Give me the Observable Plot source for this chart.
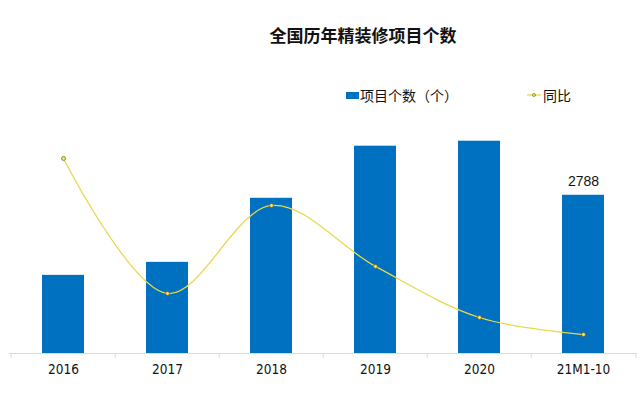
<!DOCTYPE html>
<html>
<head>
<meta charset="utf-8">
<script src="https://cdn.jsdelivr.net/npm/d3@7"></script>
<script src="https://cdn.jsdelivr.net/npm/@observablehq/plot@0.6"></script>
<style>
  html, body { margin: 0; padding: 0; background: #fff; width: 640px; height: 393px; overflow: hidden; }
  #title { position: absolute; left: 0; top: 22px; width: 640px; padding-left: 86px; box-sizing: border-box; text-align: center;
    font-family: "Noto Sans CJK SC", sans-serif; font-weight: bold; font-size: 17px; color: #111; line-height: 26px; }
  #legend { position: absolute; top: 84px; left: 346px; font-family: "Noto Sans CJK SC", sans-serif; font-size: 14px; color: #111;
    display: flex; align-items: center; line-height: 22px; }
  .sw { display: inline-block; }
  #chart { position: absolute; top: 110px; left: 0; }
</style>
</head>
<body>
<div id="title">全国历年精装修项目个数</div>
<div id="legend">
  <span class="sw" style="width:13px;height:7px;background:#0070C0;margin-right:1px"></span><span>项目个数（个）</span>
  <svg width="16" height="10" style="margin-left:68px;margin-right:1px"><line x1="1" y1="5" x2="15" y2="5" stroke="#E8D84A" stroke-width="1.3"/><circle cx="8" cy="5" r="1.6" fill="#E8D84A" stroke="#8a6d1a" stroke-width="0.6"/></svg><span>同比</span>
</div>
<div id="chart"></div>
<script>
const categories = ["2016", "2017", "2018", "2019", "2020", "21M1-10"];
const projects = [1377, 1606, 2735, 3653, 3741, 2788];
const yoy = [100.3, 17.0, 71.3, 33.7, 2.2, -8.3]; // 同比, %
const labelIndex = [5]; // only last bar is labelled

const primaryDomain = [0, 4000];
const secondaryDomain = [-20, 120];
const toPrimary = d3.scaleLinear().domain(secondaryDomain).range(primaryDomain);

const bars = categories.map((c, i) => ({cat: c, value: projects[i]}));
const line = categories.map((c, i) => ({cat: c, pct: yoy[i], y: toPrimary(yoy[i])}));
const labels = labelIndex.map(i => bars[i]);

const W = 640, H = 283, mL = 9, mR = 3;
const step = (W - mL - mR) / categories.length;

const chart = Plot.plot({
  width: W, height: H,
  marginLeft: mL, marginRight: mR, marginTop: 16, marginBottom: 40,
  style: { fontFamily: "'Liberation Sans', Arial, sans-serif", background: "transparent" },
  x: { domain: categories, type: "band", paddingInner: 0.6, paddingOuter: 0.3, axis: null },
  y: { domain: primaryDomain, axis: null },
  marks: [
    Plot.barY(bars, { x: "cat", y: "value", fill: "#0070C0" }),
    Plot.ruleY([0], { stroke: "#d9d9d9", strokeWidth: 1 }),
    Plot.ruleX(categories, { x: d => d, y1: 0, y2: 0, dx: -step / 2, insetBottom: -5, stroke: "#d9d9d9" }),
    Plot.ruleX(categories.slice(-1), { x: d => d, y1: 0, y2: 0, dx: step / 2, insetBottom: -5, stroke: "#d9d9d9" }),
    Plot.line(line, { x: "cat", y: "y", curve: "catmull-rom", stroke: "#E8D84A", strokeWidth: 1.3 }),
    Plot.dot(line, { x: "cat", y: "y", r: 2, fill: "#F3E46A", stroke: "#6b5a20", strokeWidth: 0.7 }),
    Plot.text(labels, { x: "cat", y: "value", text: d => String(d.value), dy: -14, fontSize: 14, fill: "#111" }),
    Plot.text(categories, { x: d => d, y: 0, text: d => d, dy: 16, lineAnchor: "middle", fontSize: 13.5,
      fontFamily: "'DejaVu Sans Condensed', 'DejaVu Sans', sans-serif", fill: "#111" })
  ]
});
document.getElementById("chart").appendChild(chart);
</script>
</body>
</html>
